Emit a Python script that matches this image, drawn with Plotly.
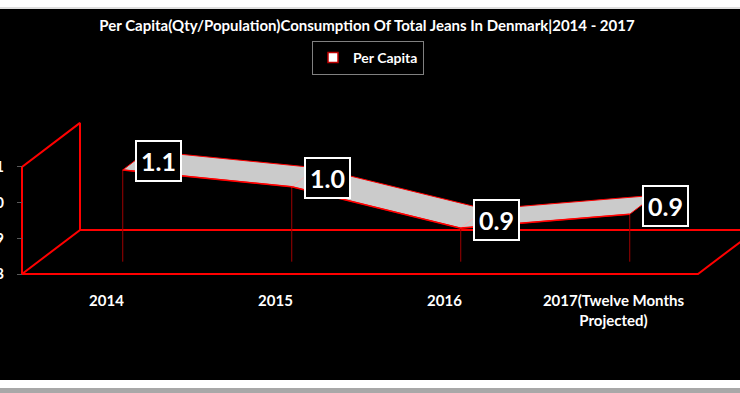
import plotly.graph_objects as go

# ---------------- data ----------------
categories = ["2014", "2015", "2016", "2017(Twelve Months<br>Projected)"]
per_capita = [1.057, 1.010, 0.894, 0.933]
series_name = "Per Capita"
y_tick_values = [0.8, 0.9, 1.0, 1.1]
y_tick_labels = ["0.8", "0.9", "1.0", "1.1"]
title_text = "Per Capita(Qty/Population)Consumption Of Total Jeans In Denmark|2014 - 2017"

# ---------------- geometry (pseudo 3-D, Excel style) ----------------
W, H = 740, 393
V_MIN, V_MAX = 0.8, 1.1
PX_FRONT_LEFT = 22      # px of the front-left wall edge
CAT_W = 169             # px per category
PX_FLOOR = 274          # px (from top) of front floor edge
PX_PER_UNIT = 357       # px per 1.0 of value
DEPTH_PX = (58, 44)     # oblique depth vector in px (right, up)
T_FRONT, T_BACK = 0.28, 0.71  # ribbon depth span
T_LABEL = (T_FRONT + T_BACK) / 2

DX = DEPTH_PX[0] / CAT_W
DY = DEPTH_PX[1] / PX_PER_UNIT
x_cat0 = PX_FRONT_LEFT + CAT_W / 2
x_range = [(0 - x_cat0) / CAT_W, (W - x_cat0) / CAT_W]
y_range = [V_MIN - (H - PX_FLOOR) / PX_PER_UNIT, V_MIN + PX_FLOOR / PX_PER_UNIT]
n = len(categories)


def P(i, v, t):
    return i + DX * t, v + DY * t


def seg(points, color, width):
    xs, ys = [], []
    for p in points:
        x, y = P(*p)
        xs.append(x)
        ys.append(y)
    return go.Scatter(x=xs, y=ys, mode="lines", line=dict(color=color, width=width),
                      hoverinfo="skip", showlegend=False)


RED = "#ff0000"
FONT = "Lato"
fig = go.Figure()

# frame: left wall and floor outline
L, R = -0.5, n - 0.5
fig.add_trace(seg([(L, V_MIN, 0), (L, V_MAX, 0), (L, V_MAX, 1), (L, V_MIN, 1), (L, V_MIN, 0)], RED, 2))
fig.add_trace(seg([(L, V_MIN, 1), (R, V_MIN, 1)], RED, 2))
fig.add_trace(seg([(L, V_MIN, 0), (R, V_MIN, 0), (R, V_MIN, 1)], RED, 2))

# drop lines
for i, v in enumerate(per_capita):
    fig.add_trace(seg([(i, v, T_FRONT), (i, V_MIN, T_FRONT)], "#a00000", 1))

# ribbon
front = [P(i, v, T_FRONT) for i, v in enumerate(per_capita)]
back = [P(i, v, T_BACK) for i, v in enumerate(per_capita)]
poly = front + back[::-1] + [front[0]]
fig.add_trace(go.Scatter(x=[p[0] for p in poly], y=[p[1] for p in poly], mode="lines",
                         fill="toself", fillcolor="#cbcbcb", line=dict(color=RED, width=1),
                         hoverinfo="skip", showlegend=False))
for i, v in enumerate(per_capita[1:-1], start=1):
    fig.add_trace(seg([(i, v, T_FRONT), (i, v, T_BACK)], "#f4b0b0", 1))
fig.add_trace(go.Scatter(x=[p[0] for p in front], y=[p[1] for p in front], mode="lines",
                         line=dict(color=RED, width=1.5), hoverinfo="skip", showlegend=False))

# legend entry
fig.add_trace(go.Scatter(x=[None], y=[None], mode="markers", name=series_name,
                         marker=dict(symbol="square", size=10, color="white",
                                     line=dict(color="#c00000", width=1.5))))

# data labels
for i, v in enumerate(per_capita):
    x, y = P(i, v, T_LABEL)
    fig.add_annotation(x=x, y=y, text=f"{v:.1f}", showarrow=False, xanchor="left",
                       yanchor="middle", yshift=-1,
                       font=dict(family=FONT, size=25, color="white", weight="bold"),
                       bgcolor="black", bordercolor="white", borderwidth=2, borderpad=4)

# background
fig.add_shape(type="rect", xref="paper", yref="paper", x0=0, x1=1,
              y0=(H - 380) / H, y1=(H - 9) / H, fillcolor="black", line_width=0, layer="below")
fig.add_shape(type="line", xref="paper", yref="paper", x0=0, x1=1,
              y0=(H - 8) / H, y1=(H - 8) / H, line=dict(color="#bdbdbd", width=1), layer="below")
fig.add_shape(type="rect", xref="paper", yref="paper", x0=0, x1=1,
              y0=0, y1=(H - 388) / H, fillcolor="#a8a8a8", line_width=0, layer="below")

fig.update_layout(
    width=W, height=H,
    margin=dict(l=0, r=0, t=0, b=0),
    paper_bgcolor="white", plot_bgcolor="rgba(0,0,0,0)",
    title=dict(text=title_text, x=367 / W, xanchor="center", y=1 - 26 / H, yanchor="middle",
               font=dict(family=FONT, size=15, color="white", weight="bold")),
    showlegend=True,
    legend=dict(orientation="h", x=368 / W, xanchor="center", y=1 - 41 / H, yanchor="top",
                bgcolor="black", bordercolor="#808080", borderwidth=1,
                font=dict(family=FONT, size=14, color="white", weight="bold")),
    xaxis=dict(range=x_range, anchor="free", position=(H - PX_FLOOR) / H,
               tickmode="array", tickvals=list(range(n)), ticktext=categories,
               showgrid=False, zeroline=False, showline=False, ticks="",
               ticklabelstandoff=16, automargin=False, fixedrange=True,
               tickfont=dict(family=FONT, size=15, color="white", weight="bold")),
    yaxis=dict(range=y_range, anchor="free", position=PX_FRONT_LEFT / W,
               tickmode="array", tickvals=y_tick_values, ticktext=y_tick_labels,
               showgrid=False, zeroline=False, showline=False, ticks="outside",
               ticklen=5, tickcolor="#595959", tickwidth=1,
               ticklabelstandoff=10, automargin=False, fixedrange=True,
               tickfont=dict(family=FONT, size=15, color="white", weight="bold")),
)

fig.write_html("out.html", config={"displayModeBar": False},
               post_script="document.body.style.margin='0';document.body.style.overflow='hidden';")
